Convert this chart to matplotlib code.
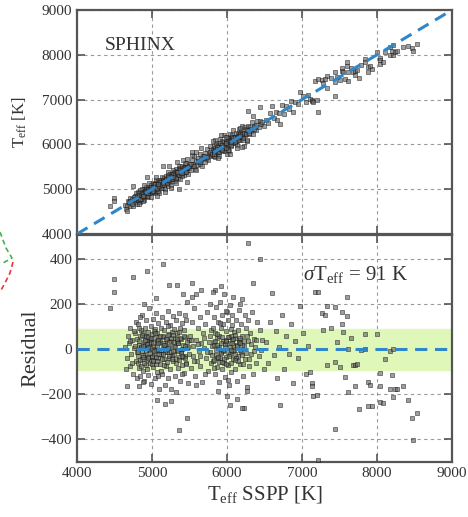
import matplotlib
matplotlib.use("Agg")
import matplotlib.pyplot as plt
from matplotlib.lines import Line2D
import numpy as np

plt.rcParams['font.family'] = ['Liberation Serif', 'DejaVu Serif']
plt.rcParams['mathtext.fontset'] = 'custom'
plt.rcParams['mathtext.rm'] = 'Liberation Serif'
plt.rcParams['mathtext.it'] = 'Liberation Serif:italic'

# ---- data: SSPP Teff (x) and residual (SPHINX - SSPP) ----
x_a = [4640,4660,4675,4690,4700,4710,4720,4735,4745,4760,4770,4780,4790,4795,4650,4705,4730,4755,4775,4798]
r_a = [10,-40,60,25,-75,95,-20,40,-110,5,70,-55,120,-15,-90,35,-60,80,15,-130]

x_b = [4805,4810,4818,4822,4830,4835,4840,4848,4852,4860,4865,4870,4878,4882,4890,4895,4900,4905,4912,4918,
       4925,4930,4935,4942,4948,4955,4960,4965,4972,4978,4985,4990,4995,5002,5008,5012,5018,5025,5030,5036,
       5040,5045,5052,5058,5062,5068,5072,5078,5085,5090,5095,5098,4815,4845,4875,4908,4938,4968,4998,5028,
       5055,5082,4828,4858,4888,4922,4952,4982,5015,5048]
r_b = [45,-30,110,-85,20,60,-120,5,85,-45,150,-10,70,-95,30,-140,95,-25,55,-70,
       130,10,-50,75,-115,40,-5,180,-60,25,100,-155,65,-35,15,135,-80,50,-20,90,
       -130,0,160,-65,35,-100,70,-40,115,-10,55,-175,-60,140,-145,20,-90,45,-30,80,
       -5,-120,95,-75,200,60,-35,30,-50,225]

x_c = [5105,5110,5118,5125,5130,5138,5142,5150,5156,5162,5170,5175,5182,5188,5195,5200,5208,5212,5220,5226,
       5232,5240,5245,5252,5258,5265,5270,5278,5285,5290,5298,5305,5310,5318,5322,5330,5338,5345,5350,5358,
       5362,5370,5378,5385,5390,5398,5405,5412,5420,5428,5435,5442,5450,5458,5465,5472,5480,5488,5495,5115,
       5148,5185,5218,5255,5292,5325,5365,5402,5445,5485]
r_c = [30,-65,95,-20,140,-110,55,5,-45,85,-160,20,120,-75,40,-15,170,-130,65,-40,
       10,-90,105,35,-175,75,-25,145,-55,15,90,-120,50,-190,130,-5,70,-85,25,160,
       -35,95,-140,45,-10,115,-70,20,85,-105,55,-30,130,-60,5,210,-150,40,-20,-95,
       60,-5,100,-230,30,-45,75,-110,150,10]

x_d = [5505,5515,5528,5540,5550,5562,5575,5585,5598,5610,5622,5635,5645,5658,5670,5682,5695,5705,5718,5730,
       5742,5755,5768,5780,5792,5535,5590,5650,5710,5775]
r_d = [60,-85,120,-30,15,180,-120,40,-55,95,-10,140,-75,25,-145,70,5,110,-40,165,
       -95,30,-15,85,-60,230,-160,260,-110,200]

x_e = [5802,5810,5816,5822,5830,5836,5842,5850,5856,5862,5870,5876,5882,5890,5896,5902,5910,5916,5922,5930,
       5936,5942,5950,5956,5962,5970,5976,5982,5990,5996,6002,6010,6016,6022,6030,6036,6042,6050,6056,6062,
       6070,6076,6082,6090,6096,5820,5845,5880,5912,5945,5985,6018,6048,6085,5860,5925,5995,6065]
r_e = [15,95,-55,140,30,-110,70,-25,185,50,-80,120,5,-145,60,210,-40,95,-15,150,
       -90,35,110,-60,245,10,-125,80,-35,165,25,-70,130,-160,55,195,-20,90,-100,40,
       150,-45,230,-5,75,-85,260,-185,115,-10,170,-135,60,20,-40,280,-210,105]

x_f = [6105,6112,6120,6128,6135,6142,6150,6158,6165,6172,6180,6188,6195,6205,6215,6225,6235,6245,6255,6265,
       6275,6285,6298,6310,6322,6335,6348,6360,6375,6390,6405,6420,6438,6455,6470,6490,6130,6175,6220,6268]
r_f = [50,-90,130,20,-140,85,-30,175,40,-65,110,-15,220,60,-120,15,150,-45,95,-185,
       35,130,-75,70,-20,165,-110,45,10,-60,120,-30,85,-5,40,-90,-220,200,-260,-170]

x_g = [6520,6545,6570,6600,6620,6650,6667,6690,6707,6730,6760,6790,6820,6850,6880,6910,6945,6975,7010,7050,7080]
r_g = [30,-60,120,249,-25,80,-129,10,-249,150,-90,60,-20,110,-150,35,-40,190,70,-110,15]

x_h = [5147,4933,4747,4493,4493,4440,5227,5333,5533,5413,5587,4667,4827,5173,5467,5360,5067,6280,6440,6347,
       5813,7173,6200,6040,7200,7133]
r_h = [378,347,320,311,253,182,284,284,293,244,244,-164,-164,-244,-307,-360,-227,471,400,293,
       253,253,-262,-249,-204,-151]

x_i = [7107,7133,7147,7213,7267,7280,7333,7333,7440,7440,7440,7507,7533,7533,7547,7573,7600,7600,7613,7613,
       7680,7707,7707,7733,7760,7840,7840,7880,7880,7933,8000,8040,8040,8040,8080,8107,8173,8173,8200,8213,
       8213,8240,8267,8347,8413,8467,8480,8533,7213,7380,7650,7900,7300,7470,7780]
r_i = [-102,-164,-209,253,160,84,191,-70,187,-58,-355,-80,164,111,76,-124,231,147,-190,0,
       -71,-164,-70,-65,-267,67,0,-147,-253,-253,67,-107,-164,-236,-240,-44,-9,-178,-116,0,
       -213,-178,-178,-164,-227,-307,-404,-284,-489,95,50,-160,150,30,-5]

x_j = [4812,4829,4835,4853,4861,4877,4884,4899,4906,4923,
       4931,4947,4953,4969,4977,4993,5001,5017,5024,5039,
       5047,5063,5071,5086,5093,5109,5117,5133,5140,5157,
       5163,5179,5187,5203,5210,5226,5233,5249,5257,5273,
       5281,5296,5303,5319,5327,5343,5351,5366,5373,5389,
       5397,5413,5421,5436,5443,5459,5468,5522,5563,5607,
       5642,5688,5737,5772,5806,5821,5829,5845,5852,5868,
       5876,5891,5899,5915,5922,5938,5946,5961,5969,5985,
       5992,6008,6016,6031,6039,6055,6062,6078,6086,6101,
       6109,6125,6132,6148,6156,6171,6179,6195,6202,6218,
       6226,6253,6272,6299,6318,6357,6388,4882,4943,5012,
       5078,5152,5208,5282,5338,5402,5872,5928,5988,6052,
       6108,6168]
r_j = [-12,35,-48,8,62,-27,15,-60,41,-5,
       22,-38,55,-18,3,47,-66,28,-9,70,
       -33,12,-52,38,-21,58,-2,-44,25,-70,
       18,-15,44,-57,6,33,-29,51,-11,-46,
       64,-24,9,-63,37,-8,26,-50,49,-17,
       2,-35,57,-41,14,-68,31,40,-55,22,
       -30,48,-12,60,-25,17,-48,35,-6,66,
       -37,11,-58,29,-19,52,-3,-43,24,-65,
       40,-14,55,-32,7,-61,27,-9,46,-22,
       63,-39,13,-54,32,-4,50,-27,19,-67,
       36,-16,58,-45,21,-10,42,-36,8,-53,
       29,-20,61,-7,45,-31,16,-59,34,-2,
       -48,25]

sigma_teff = 91
one_to_one = [4000, 9000]
x_ticks = [4000, 5000, 6000, 7000, 8000, 9000]
y_ticks_top = [4000, 5000, 6000, 7000, 8000, 9000]
y_ticks_bot = [-400, -200, 0, 200, 400]

sspp = np.array(x_a + x_b + x_c + x_d + x_e + x_f + x_g + x_h + x_i + x_j, dtype=float)
resid = np.array(r_a + r_b + r_c + r_d + r_e + r_f + r_g + r_h + r_i + r_j, dtype=float)
sphinx = sspp + resid

fig = plt.figure(figsize=(4.68, 5.17), dpi=100)
L, R = 77/468, 452/468
ax1 = fig.add_axes([L, 1-234/517, R-L, (234-10)/517])
ax2 = fig.add_axes([L, 1-462/517, R-L, (462-235)/517])

frame_col = '#555555'
blue = '#2f86c8'
sc_kw = dict(s=5, marker='s', facecolors='#6a6a6a', edgecolors='#111111', linewidths=0.5, alpha=0.65, zorder=3)

for ax in (ax1, ax2):
    ax.set_xlim(4000, 9000)
    ax.set_xticks(x_ticks)
    ax.grid(True, color='#999999', linestyle=(0, (3, 3)), linewidth=0.8)
    ax.set_axisbelow(True)
    ax.tick_params(direction='in', top=True, right=True, length=6, width=1.2,
                   labelsize=11, color=frame_col, labelcolor='#333333')
    for s in ax.spines.values():
        s.set_color(frame_col)
        s.set_linewidth(1.6)

# upper panel
ax1.scatter(sspp, sphinx, **sc_kw)
ax1.plot(one_to_one, one_to_one, color=blue, linestyle=(0, (4, 2.5)), linewidth=2.2, zorder=4)
ax1.set_ylim(4000, 9000)
ax1.set_yticks(y_ticks_top)
ax1.tick_params(labelbottom=False)
ax1.set_ylabel(r'T$_{\rm eff}$ [K]', fontsize=12, color='#333333', labelpad=9)
ax1.text(0.075, 0.84, 'SPHINX', transform=ax1.transAxes, fontsize=14, color='#333333', va='center')

# lower panel
ax2.axhspan(-sigma_teff, sigma_teff, color='#dff7b8', zorder=1)
ax2.scatter(sspp, resid, **sc_kw)
ax2.plot(one_to_one, [0, 0], color=blue, linestyle=(0, (4, 2.5)), linewidth=2.2, zorder=4)
ax2.set_ylim(-500, 505)
ax2.set_yticks(y_ticks_bot)
ax2.set_yticklabels(['\u2212400', '\u2212200', '0', '200', '400'])
ax2.set_ylabel('Residual', fontsize=16, color='#333333', labelpad=0)
ax2.set_xlabel(r'T$_{\rm eff}$ SSPP [K]', fontsize=15, color='#333333', labelpad=3)
ax2.text(0.603, 0.827, r'$\sigma$T$_{\rm eff}$ = %d K' % sigma_teff, transform=ax2.transAxes,
         fontsize=15, color='#333333', va='center')

# fragments of neighbouring panel at the left edge
W, H = 468, 517
fig.add_artist(Line2D([0/W, 6/W, 12/W, 3/W], [1-232/H, 1-248/H, 1-258/H, 1-263/H],
                      transform=fig.transFigure, color='#4caf50', linestyle=(0, (3, 2)), linewidth=1.2))
fig.add_artist(Line2D([13/W, 10/W, 5/W, 0/W], [1-262/H, 1-273/H, 1-283/H, 1-292/H],
                      transform=fig.transFigure, color='#e53935', linestyle=(0, (3, 2)), linewidth=1.2))

fig.savefig('out.png', dpi=100)
